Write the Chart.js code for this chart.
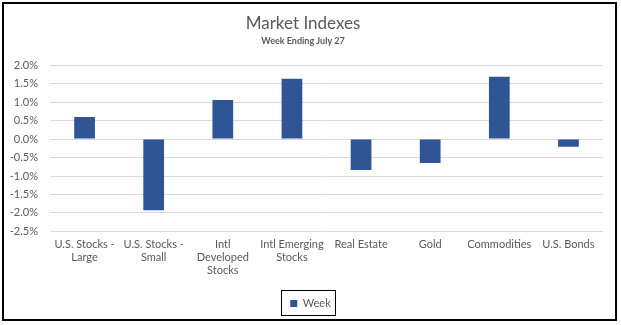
<!DOCTYPE html>
<html>
<head>
<meta charset="utf-8">
<script src="https://cdn.jsdelivr.net/npm/chart.js@4"></script>
<style>
  html, body { margin: 0; padding: 0; background: #fff; }
  #wrap { width: 621px; height: 325px; }
</style>
</head>
<body>
<div id="wrap"><canvas id="chart" width="621" height="325"></canvas></div>
<script>
// Chart data
const categories = [
  ["U.S. Stocks -", "Large"],
  ["U.S. Stocks -", "Small"],
  ["Intl", "Developed", "Stocks"],
  ["Intl Emerging", "Stocks"],
  "Real Estate",
  "Gold",
  "Commodities",
  "U.S. Bonds",
];
const weekValues = [0.60, -1.93, 1.06, 1.63, -0.84, -0.65, 1.69, -0.21];
const seriesName = "Week";
const titleText = "Market Indexes";
const subtitleText = "Week Ending July 27";

// Colors
const colors = {
  bar: "#2F5597",
  grid: "#D9D9D9",
  text: "#595959",
  frame: "#000000",
};

const fontFamily = "Lato, 'Open Sans', sans-serif";

// Outer frame, legend box, and centering the legend on the whole canvas
const framePlugin = {
  id: "frame",
  afterUpdate(chart) {
    const legend = chart.legend;
    const shift = chart.width / 2 - (legend.left + legend.right) / 2;
    legend.left += shift;
    legend.right += shift;
    legend.legendHitBoxes.forEach((box) => {
      box.left += shift;
    });
  },
  afterDraw(chart) {
    const ctx = chart.ctx;
    ctx.save();
    ctx.strokeStyle = colors.frame;
    ctx.lineWidth = 2;
    ctx.strokeRect(3, 3, 613, 317);

    const box = chart.legend.legendHitBoxes[0];
    if (box) {
      ctx.lineWidth = 1;
      ctx.strokeRect(
        Math.round(box.left) - 8.5,
        Math.round(box.top) - 7.5,
        Math.round(box.width) + 14,
        Math.round(box.height) + 14
      );
    }
    ctx.restore();
  },
};

new Chart(document.getElementById("chart"), {
  type: "bar",
  data: {
    labels: categories,
    datasets: [
      {
        label: seriesName,
        data: weekValues,
        backgroundColor: colors.bar,
        borderWidth: 0,
        barPercentage: 0.3,
        categoryPercentage: 1,
      },
    ],
  },
  options: {
    responsive: false,
    animation: false,
    layout: {
      padding: { left: 3, right: 18, top: 11, bottom: 6 },
    },
    scales: {
      x: {
        afterFit: (scale) => {
          scale.height += 2;
        },
        grid: { display: false, drawTicks: false },
        border: { display: false },
        ticks: {
          color: colors.text,
          font: { family: fontFamily, size: 11 },
          padding: 6,
          maxRotation: 0,
          autoSkip: false,
        },
      },
      y: {
        min: -2.5,
        max: 2.0,
        afterFit: (scale) => {
          scale.width = 47;
        },
        grid: { color: colors.grid, drawTicks: false, lineWidth: 1 },
        border: { display: false },
        ticks: {
          stepSize: 0.5,
          color: colors.text,
          padding: 12,
          font: { family: fontFamily, size: 11 },
          callback: (v) => v.toFixed(1) + "%",
        },
      },
    },
    plugins: {
      title: {
        display: true,
        text: titleText,
        color: colors.text,
        font: { family: fontFamily, size: 17, weight: "normal" },
        padding: { top: 2, bottom: 2 },
      },
      subtitle: {
        display: true,
        text: subtitleText,
        color: colors.text,
        font: { family: fontFamily, size: 9, weight: "bold" },
        padding: { top: 0, bottom: 19 },
      },
      legend: {
        position: "bottom",
        labels: {
          color: colors.text,
          boxWidth: 7,
          boxHeight: 7,
          padding: 13,
          font: { family: fontFamily, size: 11 },
        },
      },
      tooltip: { enabled: false },
    },
  },
  plugins: [framePlugin],
});
</script>
</body>
</html>
